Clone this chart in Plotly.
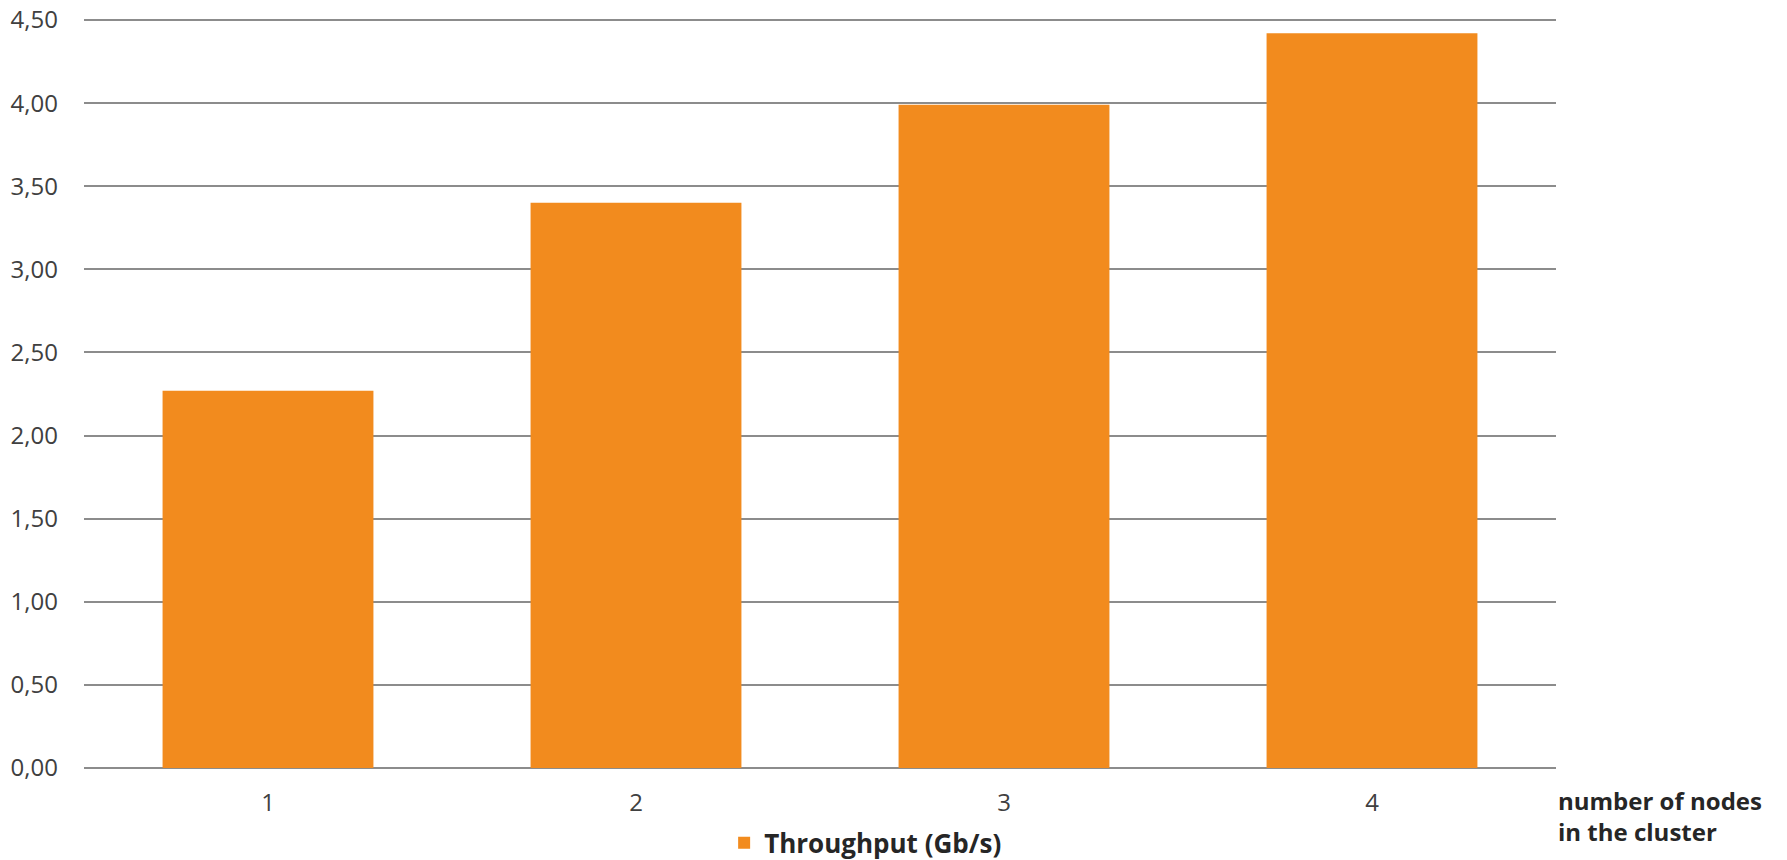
import plotly.graph_objects as go

nodes = ["1", "2", "3", "4"]
throughput = [2.27, 3.40, 3.99, 4.42]
y_ticks = [0, 0.5, 1.0, 1.5, 2.0, 2.5, 3.0, 3.5, 4.0, 4.5]
y_tick_labels = ["0,00", "0,50", "1,00", "1,50", "2,00", "2,50", "3,00", "3,50", "4,00", "4,50"]
series_name = "Throughput (Gb/s)"
x_title = "number of nodes<br>in the cluster"

fig = go.Figure()
fig.add_trace(go.Bar(
    x=nodes, y=throughput, name=series_name,
    marker=dict(color="#F28B1E", line=dict(width=0)),
    showlegend=True,
))

fig.update_layout(
    width=1787, height=860,
    margin=dict(l=84, r=231, t=18, b=92, autoexpand=False),
    paper_bgcolor="white", plot_bgcolor="white",
    bargap=0.427,
    font=dict(family="Open Sans", size=24, color="#404040"),
    showlegend=True,
    legend=dict(
        orientation="h", xref="paper", x=0.531, xanchor="center",
        yref="container", y=0.0198, yanchor="middle",
        font=dict(family="Open Sans", size=26, color="#262626", weight="bold"),
        traceorder="normal",
    ),
    xaxis=dict(
        type="category", showgrid=False, zeroline=False, showline=False,
        ticks="", ticklabelstandoff=18, automargin=False,
        tickfont=dict(family="Open Sans", size=24, color="#404040"),
    ),
    yaxis=dict(
        range=[0, 4.512], tickvals=y_ticks, ticktext=y_tick_labels,
        showgrid=True, gridcolor="#8C8C8C", gridwidth=2,
        zeroline=True, zerolinecolor="#8C8C8C", zerolinewidth=2,
        showline=False, ticks="", ticklabelstandoff=25, automargin=False,
        ticklabeloverflow="allow",
        tickfont=dict(family="Open Sans", size=24, color="#404040"),
    ),
)

fig.add_annotation(
    text=x_title, xref="paper", yref="paper", x=1.0, y=-0.0187,
    xanchor="left", yanchor="top", align="left", showarrow=False,
    font=dict(family="Open Sans", size=24, color="#262626", weight="bold"),
)

fig.write_html("out.html", config={"displayModeBar": False},
               post_script="document.body.style.margin='0';")
